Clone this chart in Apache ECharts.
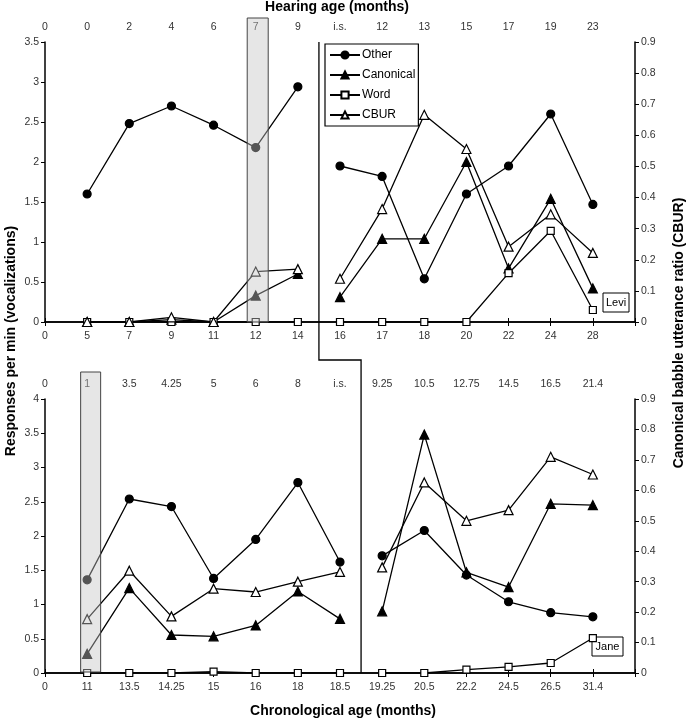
<!DOCTYPE html>
<html>
<head>
<meta charset="utf-8">
<script src="https://cdn.jsdelivr.net/npm/echarts@6/dist/echarts.min.js"></script>
<style>
  html, body { margin: 0; padding: 0; background: #fff; }
  #main { width: 687px; height: 720px; }
</style>
</head>
<body>
<div id="main"></div>
<script>
// Levi (top panel)
var leviChrono  = ['0', '5', '7', '9', '11', '12', '14', '16', '17', '18', '20', '22', '24', '28', ''];
var leviHearing = ['0', '0', '2', '4', '6', '7', '9', 'i.s.', '12', '13', '15', '17', '19', '23', ''];
var leviOther     = [1.6, 2.48, 2.70, 2.46, 2.18, 2.94, 1.95, 1.82, 0.54, 1.6, 1.95, 2.6, 1.47];
var leviCanonical = [0, 0, 0.03, 0, 0.33, 0.6, 0.31, 1.04, 1.04, 2.0, 0.67, 1.54, 0.42];
var leviWord      = [0, 0, 0, 0, 0, 0, 0, 0, 0, 0, 0.61, 1.14, 0.15];
var leviCbur      = [0, 0, 0.015, 0, 0.162, 0.17, 0.139, 0.363, 0.666, 0.556, 0.242, 0.346, 0.222];

// Jane (bottom panel)
var janeChrono  = ['0', '11', '13.5', '14.25', '15', '16', '18', '18.5', '19.25', '20.5', '22.2', '24.5', '26.5', '31.4', ''];
var janeHearing = ['0', '1', '3.5', '4.25', '5', '6', '8', 'i.s.', '9.25', '10.5', '12.75', '14.5', '16.5', '21.4', ''];
var janeOther     = [1.36, 2.54, 2.43, 1.38, 1.95, 2.78, 1.62, 1.71, 2.08, 1.43, 1.04, 0.88, 0.82];
var janeCanonical = [0.28, 1.24, 0.555, 0.535, 0.695, 1.19, 0.79, 0.9, 3.48, 1.47, 1.255, 2.47, 2.45];
var janeWord      = [0, 0, 0, 0.02, 0, 0, 0, 0, 0, 0.05, 0.09, 0.146, 0.51];
var janeCbur      = [0.177, 0.336, 0.186, 0.277, 0.266, 0.30, 0.332, 0.347, 0.626, 0.50, 0.535, 0.71, 0.652];

var font = "'Liberation Sans', Arial, sans-serif";

var myChart = echarts.init(document.getElementById('main'));

var measures = [
  { name: 'Other',     symbol: 'circle',   size: 8, fill: '#000', right: false },
  { name: 'Canonical', symbol: 'triangle', size: 9, fill: '#000', right: false },
  { name: 'Word',      symbol: 'rect',     size: 7, fill: '#fff', right: false },
  { name: 'CBUR',      symbol: 'triangle', size: 9, fill: '#fff', right: true }
];

// one line per segment, split at the i.s. break
function segment(panel, values, m, breakAt, leftPart) {
  var data = ['-'];
  values.forEach(function (v, i) {
    var k = i + 1;
    var keep = leftPart ? k <= breakAt : k > breakAt;
    data.push(keep ? v : '-');
  });
  data.push('-');
  return {
    name: m.name,
    type: 'line',
    xAxisIndex: panel * 2,
    yAxisIndex: panel * 2 + (m.right ? 1 : 0),
    data: data,
    symbol: m.symbol,
    symbolSize: m.size,
    showAllSymbol: true,
    connectNulls: false,
    animation: false,
    lineStyle: { color: '#000', width: 1.3 },
    itemStyle: { color: m.fill, borderColor: '#000', borderWidth: 1.2 },
    emphasis: { disabled: true }
  };
}

var panels = [
  { values: [leviOther, leviCanonical, leviWord, leviCbur], breakAt: 6 },
  { values: [janeOther, janeCanonical, janeWord, janeCbur], breakAt: 7 }
];

var series = [];
panels.forEach(function (p, pi) {
  measures.forEach(function (m, mi) {
    series.push(segment(pi, p.values[mi], m, p.breakAt, true));
    series.push(segment(pi, p.values[mi], m, p.breakAt, false));
  });
});

function catAxis(grid, pos, data) {
  return {
    gridIndex: grid,
    type: 'category',
    position: pos,
    data: data,
    boundaryGap: false,
    axisLine: { lineStyle: { color: '#000', width: 1.5 } },
    axisTick: { show: true, interval: 0, length: 4, lineStyle: { color: '#000' } },
    axisLabel: { interval: 0, color: '#333', fontSize: 10.5, fontFamily: font, margin: 9 },
    splitLine: { show: false }
  };
}

function valAxis(grid, pos, max, step) {
  return {
    gridIndex: grid,
    type: 'value',
    position: pos,
    min: 0,
    max: max,
    interval: step,
    axisLine: { show: true, lineStyle: { color: '#000', width: 1.5 } },
    axisTick: { show: true, length: 4, lineStyle: { color: '#000' } },
    axisLabel: { color: '#333', fontSize: 10.5, fontFamily: font, margin: 6 },
    splitLine: { show: false }
  };
}

var option = {
  backgroundColor: '#fff',
  animation: false,
  grid: [
    { left: 45, right: 52, top: 42, height: 280 },
    { left: 45, right: 52, top: 399, height: 274 }
  ],
  xAxis: [
    catAxis(0, 'bottom', leviChrono),
    catAxis(0, 'top', leviHearing),
    catAxis(1, 'bottom', janeChrono),
    catAxis(1, 'top', janeHearing)
  ],
  yAxis: [
    valAxis(0, 'left', 3.5, 0.5),
    valAxis(0, 'right', 0.9, 0.1),
    valAxis(1, 'left', 4, 0.5),
    valAxis(1, 'right', 0.9, 0.1)
  ],
  legend: {
    data: ['Other', 'Canonical', 'Word', 'CBUR'],
    orient: 'vertical',
    left: 325,
    top: 44,
    padding: [5, 3, 5, 4],
    itemGap: 8,
    itemWidth: 30,
    itemHeight: 9,
    borderColor: '#000',
    borderWidth: 1.2,
    borderRadius: 0,
    selectedMode: false,
    textStyle: { color: '#000', fontSize: 12, fontFamily: font, padding: [0, 0, 0, -3] }
  },
  series: series
};

myChart.setOption(option);

// decorations placed from axis positions
var shadeTop = myChart.convertToPixel({ xAxisIndex: 0 }, 5);
var shadeBottom = myChart.convertToPixel({ xAxisIndex: 2 }, 1);
var sepTop = (myChart.convertToPixel({ xAxisIndex: 0 }, 6) + myChart.convertToPixel({ xAxisIndex: 0 }, 7)) / 2;
var sepBottom = (myChart.convertToPixel({ xAxisIndex: 2 }, 7) + myChart.convertToPixel({ xAxisIndex: 2 }, 8)) / 2;

function labelBox(x, y, w, h, text) {
  return {
    type: 'group', x: x, y: y, z: 100,
    children: [
      { type: 'rect', shape: { x: 0, y: 0, width: w, height: h }, style: { fill: '#fff', stroke: '#000', lineWidth: 1 } },
      { type: 'text', x: w / 2, y: h / 2, style: { text: text, font: '11px ' + font, fill: '#000', textAlign: 'center', textVerticalAlign: 'middle' } }
    ]
  };
}

myChart.setOption({
  graphic: [
    { type: 'rect', z: 100, shape: { x: shadeTop - 8.5, y: 18, width: 21, height: 304 },
      style: { fill: 'rgba(198,198,198,0.43)', stroke: '#444', lineWidth: 1 } },
    { type: 'rect', z: 100, shape: { x: shadeBottom - 6.5, y: 372, width: 20, height: 300 },
      style: { fill: 'rgba(198,198,198,0.43)', stroke: '#444', lineWidth: 1 } },
    { type: 'polyline', z: 90, shape: { points: [[sepTop, 42], [sepTop, 360], [sepBottom, 360], [sepBottom, 673]] },
      style: { stroke: '#000', lineWidth: 1.3, fill: null } },
    labelBox(603, 293, 26, 19, 'Levi'),
    labelBox(592, 637, 31, 19, 'Jane'),
    { type: 'text', x: 337, y: 7, style: { text: 'Hearing age (months)', font: 'bold 14px ' + font, fill: '#000', textAlign: 'center', textVerticalAlign: 'middle' } },
    { type: 'text', x: 343, y: 711, style: { text: 'Chronological age (months)', font: 'bold 14px ' + font, fill: '#000', textAlign: 'center', textVerticalAlign: 'middle' } },
    { type: 'text', x: 11, y: 341, rotation: Math.PI / 2, style: { text: 'Responses per min (vocalizations)', font: 'bold 14px ' + font, fill: '#000', textAlign: 'center', textVerticalAlign: 'middle' } },
    { type: 'text', x: 679, y: 333, rotation: Math.PI / 2, style: { text: 'Canonical babble utterance ratio (CBUR)', font: 'bold 14px ' + font, fill: '#000', textAlign: 'center', textVerticalAlign: 'middle' } }
  ]
});
</script>
</body>
</html>
